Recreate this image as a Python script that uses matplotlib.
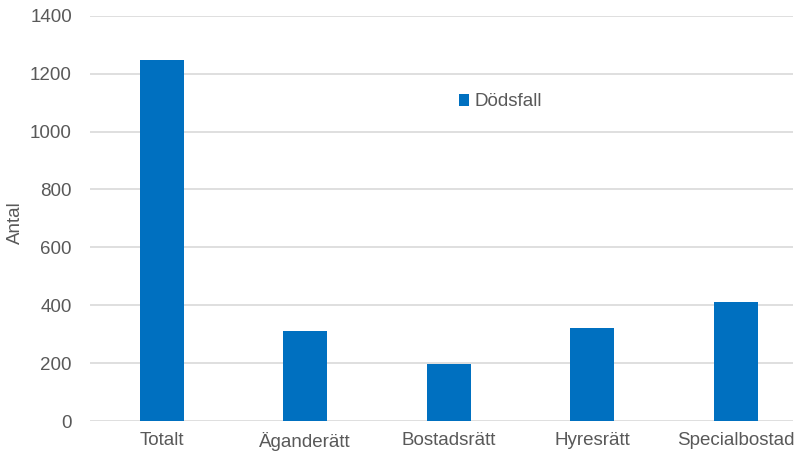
import matplotlib.pyplot as plt

plt.rcParams['font.family'] = ['Liberation Sans', 'DejaVu Sans']

categories = ['Totalt', 'Äganderätt', 'Bostadsrätt', 'Hyresrätt', 'Specialbostad']
dodsfall = [1247, 312, 196, 322, 412]
yticks = [0, 200, 400, 600, 800, 1000, 1200, 1400]

W, H = 801, 455
fs = 13.5
fig = plt.figure(figsize=(W / 100, H / 100), dpi=100)
ax = fig.add_axes([90 / W, (H - 421) / H, (793 - 90) / W, (421 - 15.7) / H])

x = range(len(categories))
ax.bar(x, dodsfall, width=0.31, color='#0070C0', label='Dödsfall', zorder=3)

ax.set_ylim(0, 1400)
ax.set_xlim(-0.5, (793 - 90) / 143.5 - 0.5)
ax.set_yticks(yticks)
ax.set_xticks(list(x))
ax.set_xticklabels(categories)
ax.grid(axis='y', color='#D9D9D9', linewidth=1.2, zorder=0)
ax.set_axisbelow(True)
for s in ax.spines.values():
    s.set_visible(False)
ax.tick_params(axis='both', length=0, labelsize=fs, colors='#595959')
ax.tick_params(axis='y', pad=13)
ax.tick_params(axis='x', pad=8)
ax.set_ylabel('Antal', fontsize=fs, color='#595959')
ax.yaxis.set_label_coords((24 - 90) / 703, 0.49)

ax.legend(loc='center left', bbox_to_anchor=(459 / W, 1 - 102 / H),
          bbox_transform=fig.transFigure, frameon=False, fontsize=fs,
          handlelength=0.55, handleheight=0.55, handletextpad=0.3,
          borderpad=0, borderaxespad=0, labelcolor='#595959')

fig.savefig('out.png', dpi=100)
